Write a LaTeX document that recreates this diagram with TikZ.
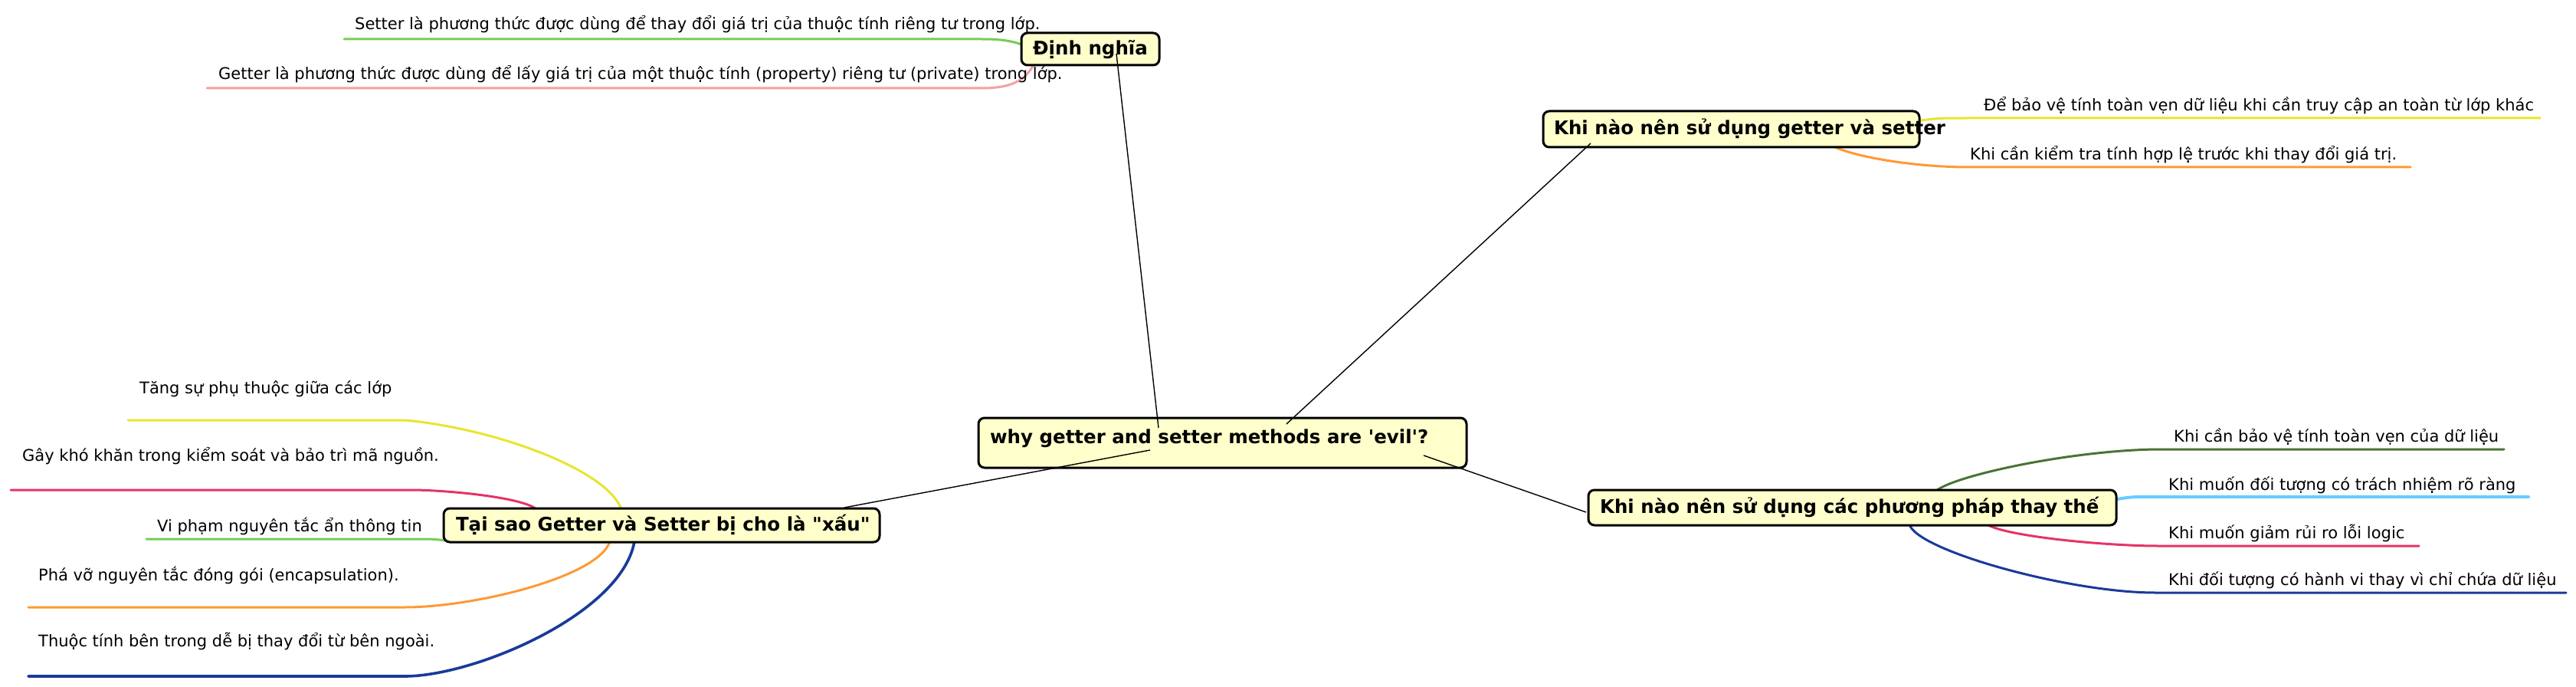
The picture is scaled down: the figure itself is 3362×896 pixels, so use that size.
\documentclass[tikz,border=0pt]{standalone}
\usepackage{fontspec}
\setmainfont{DejaVu Sans}[Ligatures=TeXOff]
\definecolor{topicfill}{HTML}{FFFFCC}
\definecolor{lgreen}{HTML}{77CC55}
\definecolor{lpink}{HTML}{F4A0A0}
\definecolor{lyellow}{HTML}{E6E62E}
\definecolor{lorange}{HTML}{FF9933}
\definecolor{dkgreen}{HTML}{4A7434}
\definecolor{lblue}{HTML}{66CCFF}
\definecolor{crimson}{HTML}{E63366}
\definecolor{navy}{HTML}{1A3A99}
\begin{document}
\begin{tikzpicture}[x=1pt,y=-1pt,
  topic/.style={draw=black, line width=3pt, rounded corners=8pt, fill=topicfill,
    font=\bfseries\fontsize{24.5}{29}\selectfont, inner ysep=0pt,
    text height=19pt, text depth=4pt, anchor=center},
  leaf/.style={font=\fontsize{21}{25}\selectfont, anchor=base west, inner sep=0pt},
  branch/.style={line width=3pt, line cap=round},
  link/.style={draw=black, line width=1.4pt}
]
\useasboundingbox (0,0) rectangle (3362,896);

% ---- coloured branches (under the boxes) ----
% Dinh nghia
\coordinate (dnG0) at (1338,60);  \coordinate (dnG1) at (1281,51); \coordinate (dnG2) at (449,51);
\coordinate (dnP0) at (1348,86);  \coordinate (dnP1) at (1281,115); \coordinate (dnP2) at (270,115);
\draw[branch, lgreen] (dnG0) .. controls (1320,52) and (1300,51) .. (dnG1) -- (dnG2);
\draw[branch, lpink] (dnP0) .. controls (1335,110) and (1310,115) .. (dnP1) -- (dnP2);
% getter/setter
\coordinate (gsY0) at (2500,158); \coordinate (gsY1) at (2575,154); \coordinate (gsY2) at (3315,154);
\coordinate (gsO0) at (2391,190); \coordinate (gsO1) at (2570,218); \coordinate (gsO2) at (3146,218);
\draw[branch, lyellow] (gsY0) .. controls (2530,154) .. (gsY1) -- (gsY2);
\draw[branch, lorange] (gsO0) .. controls (2420,205) and (2500,218) .. (gsO1) -- (gsO2);
% alternatives
\coordinate (alG0) at (2527,640); \coordinate (alG1) at (2813,586); \coordinate (alG2) at (3268,586);
\coordinate (alB0) at (2758,652); \coordinate (alB1) at (2813,648); \coordinate (alB2) at (3300,648);
\coordinate (alR0) at (2593,684); \coordinate (alR1) at (2817,712); \coordinate (alR2) at (3157,712);
\coordinate (alN0) at (2492,684); \coordinate (alN1) at (2813,773); \coordinate (alN2) at (3349,773);
\draw[branch, dkgreen] (alG0) .. controls (2552,620) and (2700,588) .. (alG1) -- (alG2);
\draw[branch, lblue, line width=4pt] (alB0) .. controls (2780,648) .. (alB1) -- (alB2);
\draw[branch, crimson] (alR0) .. controls (2620,700) and (2750,712) .. (alR1) -- (alR2);
\draw[branch, navy] (alN0) .. controls (2502,718) and (2700,773) .. (alN1) -- (alN2);
% why bad
\coordinate (tsY0) at (811,664); \coordinate (tsY1) at (528,548); \coordinate (tsY2) at (167,548);
\coordinate (tsR0) at (700,664); \coordinate (tsR1) at (536,639); \coordinate (tsR2) at (14,639);
\coordinate (tsG0) at (582,705); \coordinate (tsG1) at (536,703); \coordinate (tsG2) at (191,703);
\coordinate (tsO0) at (796,706); \coordinate (tsO1) at (528,792); \coordinate (tsO2) at (37,792);
\coordinate (tsN0) at (828,706); \coordinate (tsN1) at (528,882); \coordinate (tsN2) at (37,882);
\draw[branch, lyellow] (tsY0) .. controls (790,610) and (640,558) .. (tsY1) -- (tsY2);
\draw[branch, crimson] (tsR0) .. controls (680,648) and (580,639) .. (tsR1) -- (tsR2);
\draw[branch, lgreen] (tsG0) .. controls (565,703) .. (tsG1) -- (tsG2);
\draw[branch, lorange] (tsO0) .. controls (782,752) and (620,792) .. (tsO1) -- (tsO2);
\draw[branch, navy, line width=3.6pt] (tsN0) .. controls (812,800) and (620,882) .. (tsN1) -- (tsN2);

% ---- topic boxes ----
\node[topic, inner xsep=15pt, text height=33pt, text depth=32pt] (root) at (1595.5,577.5)
  {\makebox[607pt][l]{why getter and setter methods are 'evil'?}};
\node[topic, inner xsep=0pt, minimum width=180pt, minimum height=42pt] (dn) at (1423,64) {Định nghĩa};
\node[topic, inner xsep=14pt, minimum height=47pt] (gs) at (2259.5,168.5)
  {\makebox[463pt][l]{Khi nào nên sử dụng getter và setter}};
\node[topic, inner xsep=15pt, minimum height=46pt] (alt) at (2417.5,662)
  {\makebox[659pt][l]{Khi nào nên sử dụng các phương pháp thay thế}};
\node[topic, inner xsep=16pt, minimum height=44pt] (ts) at (863.5,685)
  {\makebox[537pt][l]{Tại sao Getter và Setter bị cho là "xấu"}};

% ---- leaf texts ----
\node[leaf] (dnA) at (463,39) {Setter là phương thức được dùng để thay đổi giá trị của thuộc tính riêng tư trong lớp.};
\node[leaf] (dnB) at (285,104) {Getter là phương thức được dùng để lấy giá trị của một thuộc tính (property) riêng tư (private) trong lớp.};
\node[leaf] (gsA) at (2589,145) {Để bảo vệ tính toàn vẹn dữ liệu khi cần truy cập an toàn từ lớp khác};
\node[leaf] (gsB) at (2571,208) {Khi cần kiểm tra tính hợp lệ trước khi thay đổi giá trị.};
\node[leaf] (altA) at (2837,576) {Khi cần bảo vệ tính toàn vẹn của dữ liệu};
\node[leaf] (altB) at (2830,639) {Khi muốn đối tượng có trách nhiệm rõ ràng};
\node[leaf] (altC) at (2830,702) {Khi muốn giảm rủi ro lỗi logic};
\node[leaf] (altD) at (2830,763) {Khi đối tượng có hành vi thay vì chỉ chứa dữ liệu};
\node[leaf] (tsA) at (182,513) {Tăng sự phụ thuộc giữa các lớp};
\node[leaf] (tsB) at (29,601) {Gây khó khăn trong kiểm soát và bảo trì mã nguồn.};
\node[leaf] (tsC) at (205,693) {Vi phạm nguyên tắc ẩn thông tin};
\node[leaf] (tsD) at (50,757) {Phá vỡ nguyên tắc đóng gói (encapsulation).};
\node[leaf] (tsE) at (50,843) {Thuộc tính bên trong dễ bị thay đổi từ bên ngoài.};

% ---- black connectors from the central topic ----
\coordinate (rDn) at (1512,558);  \coordinate (dnIn) at (1457,70);
\coordinate (rGs) at (1679,553);  \coordinate (gsIn) at (2076,187);
\coordinate (rTs) at (1501,587);  \coordinate (tsIn) at (1102,662);
\coordinate (rAl) at (1858,594);  \coordinate (alIn) at (2070,668);
\draw[link] (dnIn) -- (rDn);
\draw[link] (rGs) -- (gsIn);
\draw[link] (rTs) -- (tsIn);
\draw[link] (rAl) -- (alIn);
\end{tikzpicture}
\end{document}
